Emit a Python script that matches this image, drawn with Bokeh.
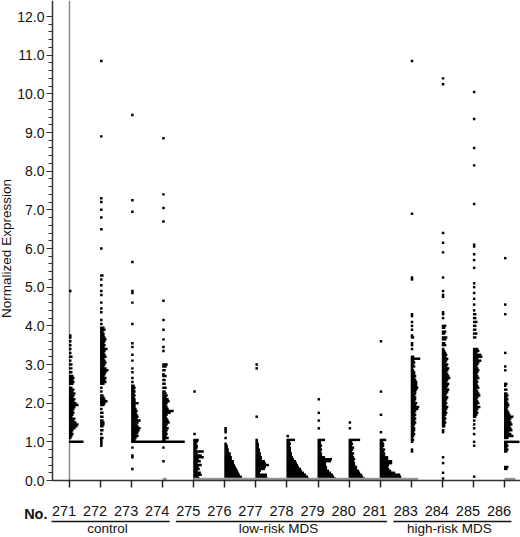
import numpy as np
from bokeh.plotting import figure
from bokeh.models import LinearAxis, FixedTicker, Range1d, ColumnDataSource
from bokeh.embed import file_html
from bokeh.resources import INLINE
from bokeh.core.properties import value

# ---------------- data ----------------
samples = ["271", "272", "273", "274", "275", "276", "277", "278",
           "279", "280", "281", "283", "284", "285", "286"]
groups = ["control", "low-risk MDS", "high-risk MDS"]
group_members = [["271", "272", "273", "274"],
                 ["275", "276", "277", "278", "279", "280", "281"],
                 ["283", "284", "285", "286"]]
y_ticks = [0, 1, 2, 3, 4, 5, 6, 7, 8, 9, 10, 11, 12]
y_tick_labels = ["0.0", "1.0", "2.0", "3.0", "4.0", "5.0", "6.0", "7.0",
                 "8.0", "9.0", "10.0", "11.0", "12.0"]

v271 = [4.9, 3.75, 3.7, 3.6, 3.5, 3.4, 3.3, 3.2, 3.1, 3.0,
        2.9, 2.8, 2.7, 2.65, 2.6, 2.55, 2.5, 2.4, 2.35, 2.3,
        2.25, 2.2, 2.15, 2.1, 2.05, 2.0, 1.95, 1.9, 1.85, 1.8,
        1.75, 1.7, 1.65, 1.6, 1.55, 1.5, 1.45, 1.4, 1.35, 1.3,
        1.25, 1.2, 1.15, 1.1, 1.0]
n271 = [1, 1, 1, 1, 1, 1, 1, 2, 1, 2,
        2, 2, 3, 4, 3, 4, 3, 2, 4, 3,
        5, 4, 3, 5, 4, 6, 8, 5, 4, 3,
        4, 3, 2, 5, 4, 6, 8, 7, 5, 3,
        2, 3, 2, 1, 13]

v272 = [10.85, 8.9, 7.3, 7.2, 7.0, 6.8, 6.5, 6.0, 5.3, 5.2,
        5.05, 4.9, 4.8, 4.6, 4.45, 4.35, 4.15, 4.05, 3.95, 3.9,
        3.85, 3.8, 3.75, 3.7, 3.65, 3.6, 3.55, 3.5, 3.45, 3.4,
        3.35, 3.3, 3.25, 3.2, 3.15, 3.1, 3.05, 3.0, 2.95, 2.9,
        2.85, 2.8, 2.75, 2.7, 2.65, 2.6, 2.55, 2.5, 2.4, 2.3,
        2.2, 2.15, 2.1, 2.05, 2.0, 1.95, 1.85, 1.75, 1.65, 1.55,
        1.5, 1.45, 1.4, 1.3, 1.2, 1.1, 1.05, 1.0, 0.95, 0.9]
n272 = [1, 1, 1, 1, 1, 1, 1, 1, 2, 1,
        1, 1, 1, 1, 1, 1, 1, 1, 3, 4,
        2, 3, 3, 4, 5, 4, 3, 4, 3, 6,
        4, 3, 4, 5, 3, 4, 5, 4, 3, 5,
        7, 5, 4, 3, 5, 4, 5, 3, 1, 1,
        2, 3, 4, 6, 4, 3, 1, 2, 2, 2,
        3, 3, 2, 2, 1, 2, 1, 1, 1, 1]

v273 = [9.45, 7.25, 6.95, 5.65, 4.9, 4.85, 4.6, 4.05, 3.55, 3.45,
        3.25, 3.1, 2.9, 2.8, 2.65, 2.55, 2.45, 2.4, 2.35, 2.3,
        2.25, 2.2, 2.15, 2.1, 2.05, 2.0, 1.95, 1.9, 1.85, 1.8,
        1.75, 1.7, 1.65, 1.6, 1.55, 1.5, 1.45, 1.4, 1.35, 1.3,
        1.25, 1.2, 1.15, 1.1, 1.05, 1.0, 0.85, 0.65, 0.6, 0.3]
n273 = [1, 1, 1, 1, 1, 1, 1, 1, 1, 1,
        1, 1, 1, 1, 1, 1, 2, 3, 2, 3,
        2, 3, 2, 3, 3, 6, 3, 3, 4, 5,
        4, 5, 6, 5, 8, 6, 5, 6, 8, 7,
        6, 5, 6, 4, 3, 31, 1, 1, 1, 1]

v274 = [8.85, 7.4, 7.05, 6.7, 4.65, 4.15, 3.9, 3.65, 3.45, 3.35,
        3.0, 2.95, 2.85, 2.75, 2.7, 2.6, 2.5, 2.4, 2.3, 2.25,
        2.2, 2.15, 2.1, 2.05, 2.0, 1.95, 1.9, 1.85, 1.8, 1.75,
        1.7, 1.65, 1.6, 1.55, 1.5, 1.45, 1.4, 1.35, 1.3, 1.25,
        1.2, 1.15, 1.1, 1.05, 1.0, 0.85, 0.5]
n274 = [1, 1, 1, 1, 1, 1, 1, 1, 1, 1,
        4, 3, 2, 1, 3, 2, 2, 3, 2, 3,
        4, 3, 5, 6, 4, 3, 4, 5, 10, 7,
        4, 3, 4, 5, 6, 4, 3, 5, 4, 3,
        4, 3, 5, 2, 21, 1, 1]

v275 = [2.3, 1.2, 1.05, 1.0, 0.95, 0.9, 0.85, 0.8, 0.75, 0.7,
        0.65, 0.6, 0.55, 0.5, 0.45, 0.4, 0.35, 0.3, 0.25, 0.2,
        0.15, 0.1, 0.05]
n275 = [1, 1, 4, 3, 2, 3, 3, 2, 9, 3,
        7, 9, 4, 6, 3, 7, 4, 5, 3, 6,
        7, 4, 5]

v276 = [1.35, 1.3, 1.25, 1.1, 0.95, 0.9, 0.85, 0.8, 0.75, 0.7,
        0.65, 0.6, 0.55, 0.5, 0.45, 0.4, 0.35, 0.3, 0.25, 0.2,
        0.15, 0.1, 0.05]
n276 = [1, 1, 1, 1, 1, 2, 2, 3, 3, 5,
        5, 6, 6, 8, 8, 9, 10, 11, 12, 13,
        14, 16, 16]

v277 = [3.0, 2.9, 1.65, 1.05, 1.0, 0.95, 0.9, 0.85, 0.8, 0.75,
        0.7, 0.65, 0.6, 0.55, 0.5, 0.45, 0.4, 0.35, 0.3, 0.25,
        0.2, 0.15, 0.1, 0.05]
n277 = [1, 1, 1, 1, 1, 2, 2, 2, 3, 3,
        4, 4, 5, 5, 8, 9, 12, 9, 8, 4,
        3, 10, 10, 11]

v278 = [1.15, 1.05, 1.0, 0.95, 0.9, 0.85, 0.8, 0.75, 0.7, 0.65,
        0.6, 0.55, 0.5, 0.45, 0.4, 0.35, 0.3, 0.25, 0.2, 0.15,
        0.1, 0.05]
n278 = [1, 7, 2, 3, 2, 3, 3, 3, 4, 4,
        5, 6, 8, 9, 10, 11, 13, 14, 16, 18,
        20, 21]

v279 = [2.1, 1.75, 1.55, 1.35, 1.05, 1.0, 0.95, 0.9, 0.85, 0.8,
        0.75, 0.7, 0.65, 0.6, 0.55, 0.5, 0.45, 0.4, 0.35, 0.3,
        0.25, 0.2, 0.15, 0.1, 0.05]
n279 = [1, 1, 1, 1, 6, 2, 2, 3, 2, 3,
        2, 3, 3, 6, 13, 12, 7, 7, 8, 8,
        10, 12, 14, 15, 17]

v280 = [1.5, 1.35, 1.05, 1.0, 0.95, 0.9, 0.85, 0.8, 0.75, 0.7,
        0.65, 0.6, 0.55, 0.5, 0.45, 0.4, 0.35, 0.3, 0.25, 0.2,
        0.15, 0.1, 0.05]
n280 = [1, 1, 10, 2, 3, 2, 4, 3, 2, 4,
        3, 4, 5, 4, 5, 5, 7, 7, 9, 10,
        12, 13, 15]

v281 = [3.6, 2.3, 1.7, 1.25, 1.05, 1.0, 0.95, 0.9, 0.85, 0.8,
        0.75, 0.7, 0.65, 0.6, 0.55, 0.5, 0.45, 0.4, 0.35, 0.3,
        0.25, 0.2, 0.15, 0.1, 0.05]
n281 = [1, 1, 1, 1, 5, 2, 3, 3, 2, 4,
        3, 4, 4, 7, 7, 11, 11, 8, 7, 8,
        10, 14, 19, 20, 20]

v283 = [10.85, 6.9, 5.25, 5.2, 4.3, 4.25, 4.1, 4.0, 3.9, 3.75,
        3.7, 3.55, 3.5, 3.4, 3.2, 3.15, 3.1, 3.05, 3.0, 2.95,
        2.9, 2.85, 2.8, 2.75, 2.7, 2.65, 2.6, 2.55, 2.5, 2.45,
        2.4, 2.35, 2.3, 2.25, 2.2, 2.15, 2.1, 2.05, 2.0, 1.95,
        1.9, 1.85, 1.8, 1.75, 1.7, 1.65, 1.6, 1.55, 1.5, 1.45,
        1.4, 1.35, 1.3, 1.25, 1.2, 1.15, 1.1, 1.05, 1.0, 0.8,
        0.75]
n283 = [1, 1, 1, 1, 1, 1, 1, 1, 1, 1,
        2, 1, 1, 1, 2, 8, 2, 3, 2, 3,
        1, 2, 3, 3, 4, 3, 4, 5, 5, 5,
        6, 5, 4, 4, 3, 4, 4, 3, 5, 4,
        7, 6, 4, 3, 4, 3, 4, 3, 4, 3,
        2, 3, 3, 2, 3, 2, 1, 2, 1, 1,
        1]

v284 = [10.4, 10.25, 6.4, 6.15, 5.9, 5.25, 4.9, 4.8, 4.75, 4.35,
        4.3, 4.2, 4.0, 3.95, 3.85, 3.8, 3.7, 3.65, 3.55, 3.5,
        3.4, 3.35, 3.3, 3.25, 3.2, 3.15, 3.1, 3.05, 3.0, 2.95,
        2.9, 2.85, 2.8, 2.75, 2.7, 2.65, 2.6, 2.55, 2.5, 2.45,
        2.4, 2.35, 2.3, 2.25, 2.2, 2.15, 2.1, 2.05, 2.0, 1.95,
        1.9, 1.85, 1.8, 1.75, 1.7, 1.65, 1.6, 1.55, 1.5, 1.45,
        1.4, 1.3, 1.25, 0.6, 0.45, 0.2, 0.05]
n284 = [1, 1, 1, 1, 1, 1, 1, 1, 1, 1,
        1, 1, 3, 2, 3, 2, 4, 3, 2, 3,
        1, 2, 3, 4, 3, 5, 4, 3, 5, 4,
        6, 5, 4, 5, 6, 7, 5, 4, 6, 5,
        4, 6, 5, 4, 3, 5, 4, 3, 4, 3,
        5, 4, 3, 4, 3, 2, 3, 2, 3, 2,
        2, 1, 1, 1, 1, 1, 1]

v285 = [10.05, 9.35, 8.6, 8.15, 7.15, 6.1, 6.05, 5.85, 5.7, 5.5,
        5.1, 5.0, 4.85, 4.7, 4.55, 4.4, 4.3, 4.2, 4.1, 4.0,
        3.9, 3.8, 3.7, 3.4, 3.35, 3.3, 3.25, 3.2, 3.15, 3.1,
        3.05, 3.0, 2.95, 2.9, 2.85, 2.8, 2.75, 2.7, 2.65, 2.6,
        2.55, 2.5, 2.45, 2.4, 2.35, 2.3, 2.25, 2.2, 2.15, 2.1,
        2.05, 2.0, 1.95, 1.9, 1.85, 1.8, 1.75, 1.7, 1.65, 1.55,
        1.45, 1.35, 1.2, 1.0, 0.9, 0.1]
n285 = [1, 1, 1, 1, 1, 1, 1, 1, 1, 1,
        1, 1, 1, 1, 1, 1, 2, 2, 3, 2,
        2, 3, 2, 4, 5, 3, 7, 8, 4, 7,
        5, 4, 3, 4, 5, 4, 3, 4, 5, 3,
        4, 3, 4, 5, 3, 4, 5, 6, 4, 3,
        4, 5, 3, 6, 4, 3, 4, 3, 2, 1,
        1, 1, 1, 1, 1, 1]

v286 = [5.75, 4.55, 4.3, 3.3, 2.95, 2.85, 2.5, 2.45, 2.35, 2.25,
        2.2, 2.15, 2.1, 2.05, 2.0, 1.95, 1.9, 1.85, 1.8, 1.75,
        1.7, 1.65, 1.6, 1.55, 1.5, 1.45, 1.4, 1.35, 1.3, 1.25,
        1.2, 1.15, 1.1, 1.0, 0.95, 0.9, 0.85, 0.8, 0.75, 0.35,
        0.3]
n286 = [1, 1, 1, 1, 1, 1, 2, 1, 2, 2,
        3, 2, 3, 2, 3, 4, 3, 2, 3, 4,
        5, 8, 6, 5, 6, 7, 5, 6, 7, 4,
        6, 8, 3, 14, 2, 3, 2, 3, 2, 3,
        2]

# counts in the zero bin (drawn grey)
zero_n = [0, 0, 0, 4, 32, 32, 32, 32, 32, 32, 38, 0, 0, 0, 11]

values = {"271": v271, "272": v272, "273": v273, "274": v274, "275": v275,
          "276": v276, "277": v277, "278": v278, "279": v279, "280": v280,
          "281": v281, "283": v283, "284": v284, "285": v285, "286": v286}
counts = {"271": n271, "272": n272, "273": n273, "274": n274, "275": n275,
          "276": n276, "277": n277, "278": n278, "279": n279, "280": n280,
          "281": n281, "283": n283, "284": n284, "285": n285, "286": n286}

# ---------------- layout ----------------
W, H = 520, 537
PXX = 31.07         # px per sample slot
PXY = 38.667        # px per expression unit
LAB0 = 63.5         # px of first label centre
OFF = 5.5 / PXX     # columns sit slightly right of their labels
AX_Y = 480.0        # px of the zero line
XS = -LAB0 / PXX
XE = (W - LAB0) / PXX
YE = 12.0 + 16.0 / PXY
YS = YE - H / PXY
YAX_X = (52.0 - LAB0) / PXX
CW = 1.0 / PXX      # one count = 1 px
FONT = "Liberation Sans"

label_pos = list(range(len(samples)))
col_pos = [i + OFF for i in label_pos]

p = figure(width=W, height=H, x_range=Range1d(XS, XE), y_range=Range1d(YS, YE),
           output_backend="svg", toolbar_location=None,
           x_axis_location=None, y_axis_location=None, min_border=0)
p.grid.visible = False
p.outline_line_color = None
p.background_fill_color = "white"
p.border_fill_color = "white"

# histogram bars
ys, lefts, rights = [], [], []
for s, cx in zip(samples, col_pos):
    for v, c in zip(values[s], counts[s]):
        ys.append(v)
        lefts.append(cx - 0.5 * CW)
        rights.append(cx + (c + 1) * CW)
src = ColumnDataSource(dict(y=ys, left=lefts, right=rights))

zsrc = ColumnDataSource(dict(
    y=[0.03 for z in zero_n if z > 0],
    left=[cx for cx, z in zip(col_pos, zero_n) if z > 0],
    right=[cx + z * CW for cx, z in zip(col_pos, zero_n) if z > 0]))

# grey column line of the first sample
p.segment(x0=[col_pos[0]], y0=[0], x1=[col_pos[0]], y1=[YE],
          line_color="#8a8a8a", line_width=1.5)
# top part of the y axis line (above the 12.0 tick)
p.segment(x0=[YAX_X], y0=[12.0], x1=[YAX_X], y1=[YE],
          line_color="#333333", line_width=1.5)

p.hbar(y="y", left="left", right="right", height=0.064, source=src,
       fill_color="black", line_color=None)
p.hbar(y="y", left="left", right="right", height=0.08, source=zsrc,
       fill_color="#9a9a9a", line_color=None)

# y axis
yax = LinearAxis(fixed_location=YAX_X, bounds=(0, 12),
                 ticker=FixedTicker(ticks=y_ticks,
                                    minor_ticks=[round(0.2 * k, 1) for k in range(0, 61)]),
                 major_label_overrides={t: l for t, l in zip(y_ticks, y_tick_labels)},
                 axis_label="Normalized Expression")
yax.axis_line_color = "#333333"
yax.axis_line_width = 1.5
yax.major_tick_line_color = "#333333"
yax.minor_tick_line_color = "#333333"
yax.major_tick_out = 6
yax.major_tick_in = 0
yax.minor_tick_out = 4
yax.minor_tick_in = 0
yax.major_label_standoff = 2
yax.major_label_text_font = FONT
yax.major_label_text_font_size = "14px"
yax.major_label_text_color = "#111111"
yax.axis_label_text_font = FONT
yax.axis_label_text_font_size = "13.5px"
yax.axis_label_text_font_style = "normal"
yax.axis_label_text_color = "#111111"
yax.axis_label_standoff = 0
p.add_layout(yax, "left")

# x axis: line and ticks at the columns
xax = LinearAxis(fixed_location=0, bounds=(YAX_X, XE),
                 ticker=FixedTicker(ticks=col_pos, minor_ticks=[]))
xax.axis_line_color = "#333333"
xax.axis_line_width = 1.5
xax.major_tick_line_color = "#222222"
xax.major_tick_line_width = 1.5
xax.major_tick_out = 7
xax.major_tick_in = 0
xax.minor_tick_line_color = None
xax.major_label_text_color = None
p.add_layout(xax, "below")

# x axis: sample numbers
xlab = LinearAxis(fixed_location=0,
                  ticker=FixedTicker(ticks=label_pos, minor_ticks=[]),
                  major_label_overrides={i: s for i, s in zip(label_pos, samples)})
xlab.axis_line_color = None
xlab.major_tick_line_color = None
xlab.minor_tick_line_color = None
xlab.major_tick_out = 0
xlab.major_tick_in = 0
xlab.major_label_standoff = 25
xlab.major_label_text_font = FONT
xlab.major_label_text_font_size = "14.5px"
xlab.major_label_text_color = "#111111"
p.add_layout(xlab, "below")

LAB_Y = -(505.0 - AX_Y) / PXY
p.text(x=[(47.0 - LAB0) / PXX], y=[LAB_Y], text=["No."],
       text_font=value(FONT), text_font_style="bold", text_font_size="14.5px",
       text_align="right", text_baseline="top", text_color="#111111")

# group underlines and names
UL_Y = -(521.0 - AX_Y) / PXY
GR_Y = -(520.5 - AX_Y) / PXY
idx = {s: i for i, s in enumerate(samples)}
ux0, ux1, gx = [], [], []
for members in group_members:
    a, b = idx[members[0]], idx[members[-1]]
    ux0.append(a - 0.4)
    ux1.append(b + 0.4)
    gx.append((a + b) / 2.0 - 0.1)
p.segment(x0=ux0, y0=[UL_Y] * len(ux0), x1=ux1, y1=[UL_Y] * len(ux1),
          line_color="#111111", line_width=1.3)
p.text(x=gx, y=[GR_Y] * len(gx), text=groups, text_font=value(FONT),
       text_font_size="13.5px", text_align="center", text_baseline="top",
       text_color="#111111")

open("out.html", "w").write(file_html(p, INLINE))
